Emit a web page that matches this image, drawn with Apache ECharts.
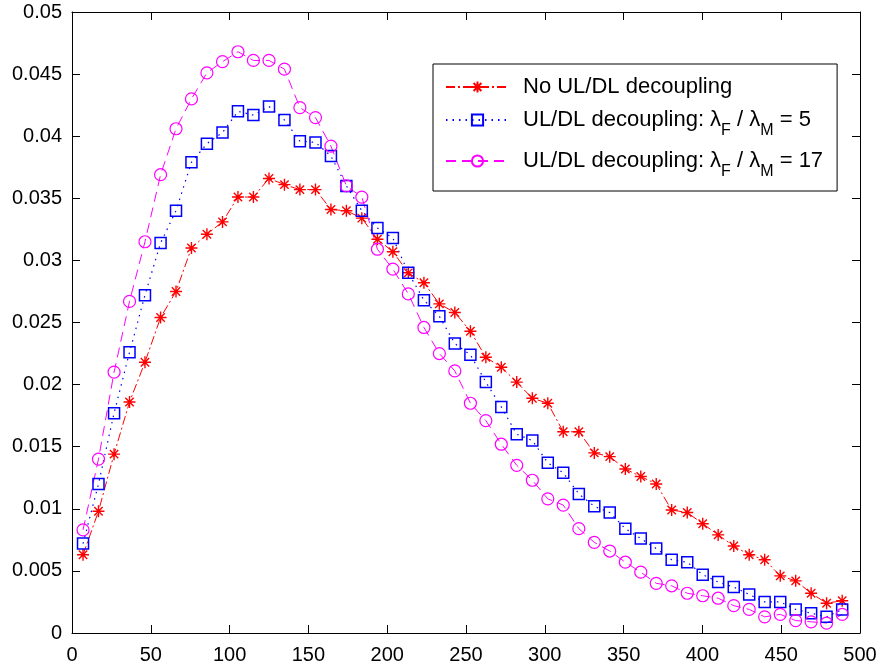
<!DOCTYPE html>
<html>
<head>
<meta charset="utf-8">
<script src="https://cdn.jsdelivr.net/npm/echarts@6/dist/echarts.min.js"></script>
<style>
html,body{margin:0;padding:0;background:#fff;}
#chart{width:881px;height:666px;}
</style>
</head>
<body>
<div id="chart"></div>
<script>
// x positions of the samples
var xValues = [7, 16.8, 26.7, 36.5, 46.3, 56.2, 66, 75.8, 85.6, 95.5,
  105.3, 115.1, 125, 134.8, 144.6, 154.5, 164.3, 174.1, 183.9, 193.8,
  203.6, 213.4, 223.3, 233.1, 242.9, 252.8, 262.6, 272.4, 282.2, 292.1,
  301.9, 311.7, 321.6, 331.4, 341.2, 351.1, 360.9, 370.7, 380.5, 390.4,
  400.2, 410, 419.9, 429.7, 439.5, 449.4, 459.2, 469, 478.8, 488.7];

var noDecoupling = [0.0063, 0.0098, 0.0144, 0.0186, 0.0218, 0.0254, 0.0275, 0.031, 0.0321, 0.0331,
  0.0351, 0.0351, 0.0366, 0.0361, 0.0357, 0.0357, 0.0341, 0.034, 0.0334, 0.0317,
  0.0307, 0.029, 0.0282, 0.0265, 0.0258, 0.0243, 0.0222, 0.0214, 0.0202, 0.0189,
  0.0185, 0.0162, 0.0162, 0.0145, 0.0142, 0.0132, 0.0126, 0.012, 0.0099, 0.0097,
  0.0088, 0.0079, 0.007, 0.0063, 0.0059, 0.0046, 0.0042, 0.0032, 0.0024, 0.0026];

var decoupling5 = [0.0072, 0.012, 0.0177, 0.0226, 0.0272, 0.0314, 0.034, 0.0379, 0.0394, 0.0403,
  0.042, 0.0417, 0.0424, 0.0413, 0.0396, 0.0395, 0.0384, 0.036, 0.034, 0.0326,
  0.0318, 0.029, 0.0268, 0.0255, 0.0233, 0.0224, 0.0202, 0.0182, 0.016, 0.0155,
  0.0137, 0.0129, 0.0112, 0.0102, 0.0097, 0.0084, 0.0076, 0.0068, 0.0059, 0.0057,
  0.0047, 0.0041, 0.0037, 0.0031, 0.0025, 0.0025, 0.0019, 0.0016, 0.0013, 0.0019];

var decoupling17 = [0.0083, 0.014, 0.021, 0.0267, 0.0315, 0.0369, 0.0406, 0.043, 0.0451, 0.046,
  0.0468, 0.0461, 0.0461, 0.0454, 0.0423, 0.0415, 0.0392, 0.036, 0.0351, 0.0309,
  0.0293, 0.0273, 0.0246, 0.0225, 0.0211, 0.0185, 0.0171, 0.0152, 0.0135, 0.0123,
  0.0108, 0.0103, 0.0084, 0.0073, 0.0066, 0.0057, 0.0049, 0.004, 0.0038, 0.0032,
  0.003, 0.0028, 0.0022, 0.0019, 0.0013, 0.0015, 0.001, 0.0009, 0.0008, 0.0015];

var seriesNames = ['No UL/DL decoupling', 'UL/DL decoupling: \u03bbF / \u03bbM = 5', 'UL/DL decoupling: \u03bbF / \u03bbM = 17'];
var legendRich = [
  '{g|}{n|No UL/DL decoupling}',
  '{g|}{n|UL/DL decoupling: \u03bb}{s|F}{n| / \u03bb}{s|M}{n| = 5}',
  '{g|}{n|UL/DL decoupling: \u03bb}{s|F}{n| / \u03bb}{s|M}{n| = 17}'
];

function pairs(ys) { return xValues.map(function (x, i) { return [x, ys[i]]; }); }

var FONT = '"Liberation Sans", Arial, sans-serif';
var asterisk = 'path://M5,0L5,10M0,5L10,5M1.5,1.5L8.5,8.5M1.5,8.5L8.5,1.5';

var chart = echarts.init(document.getElementById('chart'), null, {renderer: 'canvas'});
var axisCommon = {
  axisLine: {show: true, onZero: false, lineStyle: {color: '#000', width: 1}},
  axisTick: {show: true, inside: true, length: 8, lineStyle: {color: '#000'}},
  splitLine: {show: false}
};
chart.setOption({
  animation: false,
  backgroundColor: '#fff',
  grid: {left: 72, right: 21, top: 12, bottom: 33, containLabel: false},
  xAxis: [
    Object.assign({type: 'value', min: 0, max: 500, interval: 50, position: 'bottom',
      axisLabel: {color: '#000', fontSize: 20, fontFamily: FONT, margin: 12}}, axisCommon),
    Object.assign({type: 'value', min: 0, max: 500, interval: 50, position: 'top',
      axisLabel: {show: false}}, axisCommon)
  ],
  yAxis: [
    Object.assign({type: 'value', min: 0, max: 0.05, interval: 0.005, position: 'left',
      axisLabel: {color: '#000', fontSize: 20, fontFamily: FONT, margin: 10}}, axisCommon),
    Object.assign({type: 'value', min: 0, max: 0.05, interval: 0.005, position: 'right',
      axisLabel: {show: false}}, axisCommon)
  ],
  legend: {
    orient: 'vertical',
    left: 433, top: 64,
    padding: [12, 14, 11, 12],
    itemGap: 11,
    itemWidth: 63, itemHeight: 14,
    borderColor: '#000', borderWidth: 1, borderRadius: 0,
    backgroundColor: '#fff',
    data: seriesNames,
    formatter: function (name) { return legendRich[seriesNames.indexOf(name)]; },
    textStyle: {
      color: '#000', fontFamily: FONT, fontSize: 22,
      rich: {
        g: {width: 9},
        n: {fontSize: 22, fontFamily: FONT, color: '#000', lineHeight: 26, verticalAlign: 'middle'},
        s: {fontSize: 16, fontFamily: FONT, color: '#000', lineHeight: 38, verticalAlign: 'bottom'}
      }
    }
  },
  series: [
    {
      name: seriesNames[0], type: 'line', data: pairs(noDecoupling),
      symbol: asterisk, symbolSize: 12,
      color: '#ff0000',
      lineStyle: {color: '#ff0000', width: 1, type: [9, 3, 2, 3]},
      itemStyle: {color: '#ff0000', borderColor: '#ff0000', borderWidth: 1.4}
    },
    {
      name: seriesNames[1], type: 'line', data: pairs(decoupling5),
      symbol: 'rect', symbolSize: 11,
      color: '#0000ff',
      lineStyle: {color: '#0000ff', width: 1.2, type: [1.5, 5]},
      itemStyle: {color: 'rgba(0,0,0,0)', borderColor: '#0000ff', borderWidth: 1.5}
    },
    {
      name: seriesNames[2], type: 'line', data: pairs(decoupling17),
      symbol: 'circle', symbolSize: 12,
      color: '#ff00ff',
      lineStyle: {color: '#ff00ff', width: 1, type: [10, 6]},
      itemStyle: {color: 'rgba(0,0,0,0)', borderColor: '#ff00ff', borderWidth: 1.2}
    }
  ]
});
</script>
</body>
</html>
